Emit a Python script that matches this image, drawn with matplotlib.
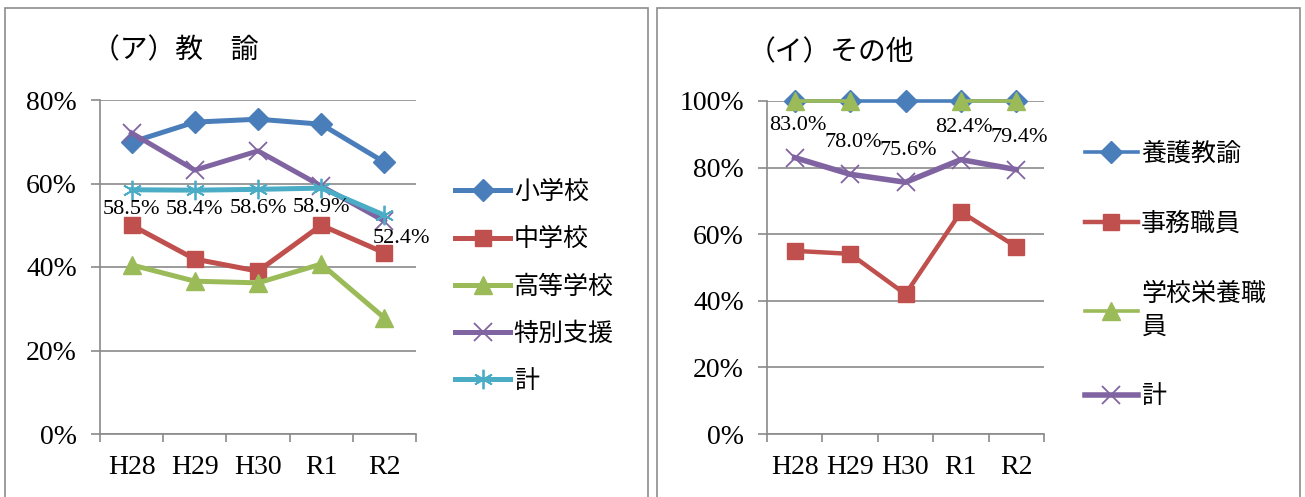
import matplotlib

matplotlib.use("Agg")
import matplotlib.pyplot as plt
import numpy as np
from matplotlib.patches import Rectangle

years = ["H28", "H29", "H30", "R1", "R2"]

# (ア) 教諭
shogakko = [69.9, 74.7, 75.4, 74.2, 65.1]
chugakko = [50.0, 41.9, 39.0, 50.0, 43.4]
koto = [40.5, 36.6, 36.2, 40.7, 27.8]
tokubetsu = [72.1, 63.2, 67.8, 59.4, 51.0]
kei_a = [58.5, 58.4, 58.6, 58.9, 52.4]

# (イ) その他
yogo = [100.0, 100.0, 100.0, 100.0, 100.0]
jimu = [55.0, 54.1, 42.0, 66.7, 56.2]
eiyo = [100.0, 100.0, np.nan, 100.0, 100.0]
kei_i = [83.0, 78.0, 75.6, 82.4, 79.4]

W, H = 1305, 497
BLUE = "#4a7ebb"
RED = "#c0504d"
GREEN = "#9bbb59"
PURPLE = "#8064a2"
CYAN = "#4bacc6"
GRID = "#8a8a8a"
JP = ["Noto Sans CJK JP", "DejaVu Sans"]
NUM = "Liberation Serif"

fig = plt.figure(figsize=(W / 100, H / 100), dpi=100)
fig.patch.set_facecolor("white")

# panel frames
for x0, x1 in [(5, 648), (657, 1300)]:
    fig.patches.append(Rectangle((x0 / W, -0.05), (x1 - x0) / W, 1.05 - 8 / H,
                                 transform=fig.transFigure, fill=False,
                                 edgecolor="#8c8c8c", lw=1.2))


def px_axes(x0, x1, ytop, ybot):
    return fig.add_axes([x0 / W, 1 - ybot / H, (x1 - x0) / W, (ybot - ytop) / H])


def style_axes(ax, ymax):
    x = np.arange(len(years))
    ax.set_xlim(-0.5, len(years) - 0.5)
    ax.set_ylim(0, ymax)
    ax.set_yticks(np.arange(0, ymax + 1, 20))
    ax.set_yticklabels([f"{int(v)}%" for v in np.arange(0, ymax + 1, 20)],
                       fontsize=20, family=NUM)
    ax.set_xticks(x)
    ax.set_xticklabels(years, fontsize=20, family=NUM)
    ax.set_xticks(np.arange(-0.5, len(years)), minor=True)
    ax.tick_params(axis="x", which="major", length=0, pad=15)
    ax.tick_params(axis="x", which="minor", length=6, width=1.2, color=GRID)
    ax.tick_params(axis="y", length=6.5, width=1.2, color=GRID, pad=10)
    ax.grid(axis="y", color=GRID, lw=1.2)
    ax.set_axisbelow(True)
    for s in ["top", "right"]:
        ax.spines[s].set_visible(False)
    for s in ["left", "bottom"]:
        ax.spines[s].set_color(GRID)
        ax.spines[s].set_linewidth(1.2)
    return x


asterisk = (6, 2, 0)

# ---- left panel
axL = px_axes(100, 416, 100, 434)
x = style_axes(axL, 80)
axL.plot(x, shogakko, color=BLUE, lw=3.6, marker="D", ms=11, label="小学校", clip_on=False)
axL.plot(x, chugakko, color=RED, lw=3.6, marker="s", ms=12, label="中学校", clip_on=False)
axL.plot(x, koto, color=GREEN, lw=3.6, marker="^", ms=13, label="高等学校", clip_on=False)
axL.plot(x, tokubetsu, color=PURPLE, lw=3.6, marker="x", ms=13, mew=1.3, label="特別支援", clip_on=False)
axL.plot(x, kei_a, color=CYAN, lw=3.6, marker=asterisk, ms=14, mew=1.3, label="計", clip_on=False)
for i, v in enumerate(kei_a):
    off = (12, -17) if i == len(kei_a) - 1 else (0, -14)
    axL.annotate(f"{v:.1f}%", (x[i], v), xytext=off, textcoords="offset points",
                 ha="center", va="center", fontsize=16, family=NUM)
axL.legend(loc="upper left", bbox_to_anchor=(455 / W, 1 - 179 / H),
           bbox_transform=fig.transFigure, frameon=False, prop={"family": JP, "size": 18},
           handlelength=2.2, handletextpad=0.15, labelspacing=0.85, borderpad=0, borderaxespad=0)
fig.text(92 / W, 1 - 50 / H, "（ア）教　諭", fontsize=20, family=JP, va="center", ha="left")

# ---- right panel
axR = px_axes(767, 1044, 101, 434)
x = style_axes(axR, 100)
axR.plot(x, yogo, color=BLUE, lw=2.6, marker="D", ms=11, label="養護教諭", clip_on=False)
axR.plot(x, jimu, color=RED, lw=3.2, marker="s", ms=12, label="事務職員", clip_on=False)
axR.plot(x, eiyo, color=GREEN, lw=2.6, marker="^", ms=13, label="学校栄養職\n員", clip_on=False)
axR.plot(x, kei_i, color=PURPLE, lw=4.0, marker="x", ms=13, mew=1.3, label="計", clip_on=False)
for i, v in enumerate(kei_i):
    axR.annotate(f"{v:.1f}%", (x[i], v), xytext=(2, 23), textcoords="offset points",
                 ha="center", va="center", fontsize=16, family=NUM)
legR = axR.legend(loc="upper left", bbox_to_anchor=(1085 / W, 1 - 141 / H),
                  bbox_transform=fig.transFigure, frameon=False, prop={"family": JP, "size": 18},
                  handlelength=2.1, handletextpad=0.15, labelspacing=1.75, borderpad=0, borderaxespad=0)
legR.get_texts()[2].set_linespacing(1.35)
fig.text(748 / W, 1 - 52 / H, "（イ）その他", fontsize=20, family=JP, va="center", ha="left")

fig.savefig("out.png", dpi=100, facecolor="white")
